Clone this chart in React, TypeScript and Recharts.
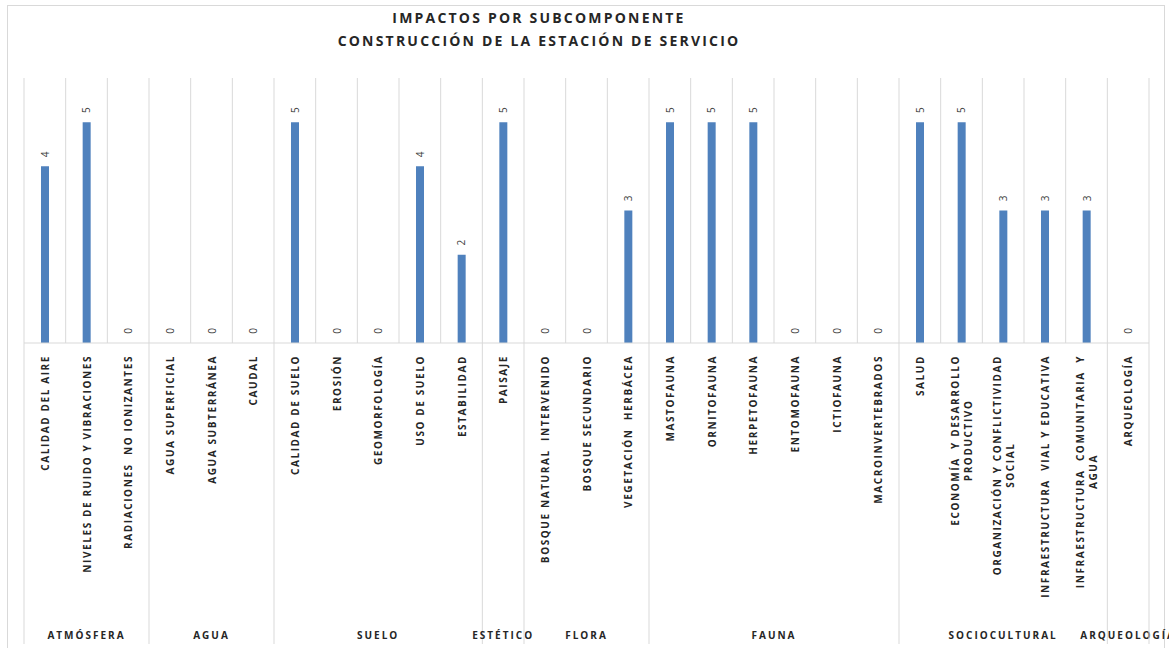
import React from 'react';
import { ComposedChart, Bar, Line, XAxis, YAxis, CartesianGrid, LabelList } from 'recharts';

// subcomponentes (eje X), "\n" marca el salto de linea de la etiqueta
const subcomponentes = [
  'CALIDAD DEL AIRE',
  'NIVELES DE RUIDO Y VIBRACIONES',
  'RADIACIONES  NO IONIZANTES',
  'AGUA SUPERFICIAL',
  'AGUA SUBTERRÁNEA',
  'CAUDAL',
  'CALIDAD DE SUELO',
  'EROSIÓN',
  'GEOMORFOLOGÍA',
  'USO DE SUELO',
  'ESTABILIDAD',
  'PAISAJE',
  'BOSQUE NATURAL  INTERVENIDO',
  'BOSQUE SECUNDARIO',
  'VEGETACIÓN  HERBÁCEA',
  'MASTOFAUNA',
  'ORNITOFAUNA',
  'HERPETOFAUNA',
  'ENTOMOFAUNA',
  'ICTIOFAUNA',
  'MACROINVERTEBRADOS',
  'SALUD',
  'ECONOMÍA  Y DESARROLLO\nPRODUCTIVO',
  'ORGANIZACIÓN Y CONFLICTIVIDAD\nSOCIAL',
  'INFRAESTRUCTURA  VIAL Y EDUCATIVA',
  'INFRAESTRUCTURA  COMUNITARIA  Y\nAGUA',
  'ARQUEOLOGÍA',
];

const impactos = [4, 5, 0, 0, 0, 0, 5, 0, 0, 4, 2, 5, 0, 0, 3, 5, 5, 5, 0, 0, 0, 5, 5, 3, 3, 3, 0];

// componentes y cuantos subcomponentes tiene cada uno
const componentes = ['ATMÓSFERA', 'AGUA', 'SUELO', 'ESTÉTICO', 'FLORA', 'FAUNA', 'SOCIOCULTURAL', 'ARQUEOLOGÍA'];
const subPorComponente = [3, 3, 5, 1, 3, 6, 5, 1];

const titulo = ['IMPACTOS POR SUBCOMPONENTE', 'CONSTRUCCIÓN DE LA ESTACIÓN DE SERVICIO'];

const W = 1169;
const H = 648;
const MARGIN = { top: 78, right: 20, left: 24, bottom: 4 };
const XAXIS_H = 301;
const PLOT_W = W - MARGIN.left - MARGIN.right;
const FONT = '"Open Sans", "DejaVu Sans", sans-serif';
const GRID = '#d9d9d9';

const LBL_SIZE = 10;
const LBL_LS = 1.6;

let ctx: CanvasRenderingContext2D | null = null;
const measure = (s: string, size: number, ls: number) => {
  if (!ctx) ctx = document.createElement('canvas').getContext('2d');
  if (!ctx) return s.length * size * 0.7;
  ctx.font = `bold ${size}px "Open Sans"`;
  return ctx.measureText(s).width + s.length * ls;
};

// primer indice de cada componente
const inicios: number[] = [];
subPorComponente.reduce((acc, n) => {
  inicios.push(acc);
  return acc + n;
}, 0);

const data = subcomponentes.map((name, i) => ({ name, valor: impactos[i] }));

const CategoryTick = (props: any) => {
  const { x, y, payload, index } = props;
  const n = props.visibleTicksCount || subcomponentes.length;
  const step = (props.width || PLOT_W) / n;
  const lines = String(payload.value).split('\n');
  const top = y + 12;
  const longest = Math.max(...lines.map((l) => measure(l, LBL_SIZE, LBL_LS)));
  const lineGap = 13;

  const g = inicios.indexOf(index);
  const extras: React.ReactNode[] = [];
  if (g >= 0) {
    const left = x - step / 2;
    extras.push(<line key="sep" x1={left} x2={left} y1={y} y2={y + XAXIS_H} stroke={GRID} />);
    const cx = x + ((subPorComponente[g] - 1) * step) / 2;
    extras.push(
      <text
        key="grp"
        x={cx}
        y={y + 292}
        textAnchor="middle"
        dominantBaseline="central"
        fontFamily={FONT}
        fontWeight="bold"
        fontSize={10}
        letterSpacing={2}
        fill="#262626"
      >
        {componentes[g]}
      </text>
    );
  }
  if (index === subcomponentes.length - 1) {
    const right = x + step / 2;
    extras.push(<line key="end" x1={right} x2={right} y1={y} y2={y + XAXIS_H} stroke={GRID} />);
  }

  return (
    <g>
      {lines.map((l, i) => {
        const lx = x + (i - (lines.length - 1) / 2) * lineGap;
        const single = lines.length === 1;
        const ly = single ? top : top + longest / 2;
        return (
          <text
            key={i}
            x={lx}
            y={ly}
            transform={`rotate(-90 ${lx} ${ly})`}
            textAnchor={single ? 'end' : 'middle'}
            dominantBaseline="central"
            fontFamily={FONT}
            fontWeight="bold"
            fontSize={LBL_SIZE}
            letterSpacing={LBL_LS}
            fill="#262626"
            style={{ whiteSpace: 'pre' }}
          >
            {l}
          </text>
        );
      })}
      {extras}
    </g>
  );
};

// etiqueta de valor girada, sobre la punta de la barra (tambien para los ceros)
const ValueLabel = (p: any) => {
  const vb = p.viewBox || p;
  const cx = vb.x + (vb.width || 0) / 2;
  const cy = vb.y - 12;
  return (
    <text
      x={cx}
      y={cy}
      transform={`rotate(-90 ${cx} ${cy})`}
      textAnchor="middle"
      dominantBaseline="central"
      fontFamily={FONT}
      fontSize={10}
      fill="#404040"
    >
      {p.value}
    </text>
  );
};

export default function App() {
  return (
    <div style={{ position: 'absolute', left: 0, top: 0, width: W, height: H, overflow: 'hidden', background: '#fff' }}>
      <div
        style={{
          position: 'absolute',
          left: 7,
          top: 5,
          width: 1158,
          height: H,
          border: `1px solid ${GRID}`,
          boxSizing: 'border-box',
        }}
      />
      <div
        style={{
          position: 'absolute',
          left: 0,
          top: 6,
          width: 1078,
          textAlign: 'center',
          fontFamily: FONT,
          fontWeight: 'bold',
          fontSize: 14,
          lineHeight: '23px',
          letterSpacing: 2.2,
          color: '#262626',
        }}
      >
        {titulo.map((t) => (
          <div key={t}>{t}</div>
        ))}
      </div>
      <div style={{ position: 'absolute', left: 0, top: 0 }}>
        <ComposedChart width={W} height={H} data={data} margin={MARGIN} barSize={8}>
          <CartesianGrid
            horizontal={false}
            stroke={GRID}
            verticalCoordinatesGenerator={({ offset }: any) =>
              subcomponentes.concat(['']).map((_, i) => offset.left + (i * offset.width) / subcomponentes.length)
            }
          />
          <XAxis
            dataKey="name"
            interval={0}
            height={XAXIS_H}
            tickLine={false}
            tickSize={0}
            tickMargin={0}
            axisLine={{ stroke: GRID }}
            tick={<CategoryTick />}
          />
          <YAxis hide domain={[0, 6]} />
          <Bar dataKey="valor" fill="#4F81BD" isAnimationActive={false} />
          <Line
            dataKey="valor"
            stroke="none"
            dot={false}
            activeDot={false}
            legendType="none"
            isAnimationActive={false}
          >
            <LabelList dataKey="valor" content={<ValueLabel />} />
          </Line>
        </ComposedChart>
      </div>
    </div>
  );
}
